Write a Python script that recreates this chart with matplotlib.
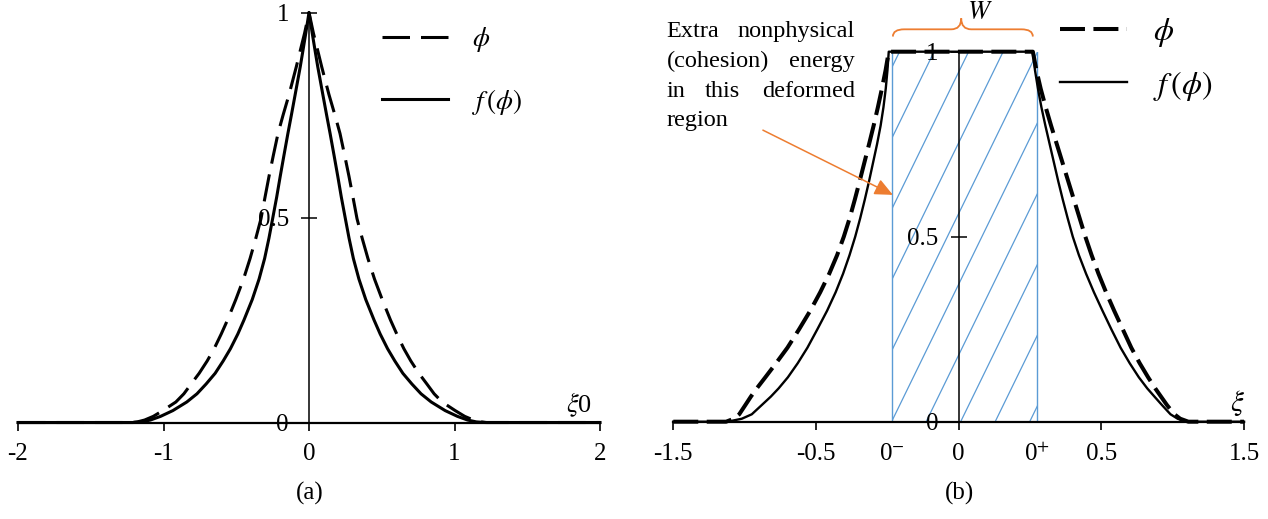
import matplotlib
matplotlib.use("Agg")
import matplotlib.pyplot as plt
from matplotlib.path import Path
from matplotlib.patches import PathPatch, Rectangle

plt.rcParams["font.family"] = ["Liberation Serif", "DejaVu Serif"]
plt.rcParams["mathtext.fontset"] = "stix"
plt.rcParams["axes.unicode_minus"] = False

# --- dados ---

# (a) perfil phi (tracejado) e f(phi) (cheio) em xi_0
YA = [0, 0, 0.0015, 0.006, 0.015, 0.029, 0.05, 0.07, 0.094, 0.12, 0.15, 0.18, 0.216, 0.25,
      0.3, 0.35, 0.4, 0.45, 0.497, 0.55, 0.6, 0.65, 0.705, 0.75, 0.8, 0.868, 0.9, 0.95,
      1.0,
      0.95, 0.9, 0.868, 0.8, 0.75, 0.705, 0.65, 0.6, 0.55, 0.497, 0.45, 0.4, 0.35, 0.3,
      0.25, 0.216, 0.18, 0.15, 0.12, 0.094, 0.07, 0.05, 0.029, 0.015, 0.006, 0.0015, 0, 0]
XA_SOLID = [-2.0, -1.21, -1.15, -1.09, -1.02, -0.936, -0.84, -0.77, -0.707, -0.645, -0.59,
            -0.54, -0.489, -0.447, -0.39, -0.343, -0.305, -0.275, -0.25, -0.222, -0.198,
            -0.173, -0.145, -0.121, -0.095, -0.06, -0.045, -0.022,
            0.0,
            0.022, 0.045, 0.06, 0.095, 0.121, 0.145, 0.173, 0.198, 0.222, 0.25, 0.275, 0.305,
            0.343, 0.39, 0.447, 0.489, 0.54, 0.59, 0.645, 0.707, 0.77, 0.84, 0.936, 1.02,
            1.09, 1.15, 1.21, 2.0]
XA_DASH = [-2.0, -1.22, -1.18, -1.13, -1.07, -1.005, -0.915, -0.86, -0.81, -0.755, -0.70,
           -0.652, -0.603, -0.56, -0.503, -0.45, -0.405, -0.365, -0.33, -0.302, -0.275,
           -0.246, -0.213, -0.178, -0.137, -0.087, -0.065, -0.03,
           0.0,
           0.03, 0.065, 0.087, 0.137, 0.178, 0.213, 0.246, 0.275, 0.302, 0.33, 0.365, 0.405,
           0.45, 0.503, 0.56, 0.603, 0.652, 0.70, 0.755, 0.81, 0.86, 0.915, 1.005, 1.07,
           1.13, 1.18, 1.22, 2.0]

# (b) mesmo perfil com patamar de largura W (eixo esquematico)
YB = [0, 0, 0.008, 0.02, 0.045, 0.068, 0.09, 0.12, 0.158, 0.2, 0.25, 0.3, 0.35, 0.4, 0.45,
      0.5, 0.55, 0.6, 0.65, 0.7, 0.75, 0.8, 0.85, 0.9, 0.95, 1.0,
      1.0, 0.95, 0.9, 0.85, 0.8, 0.75, 0.7, 0.65, 0.6, 0.55, 0.5, 0.45, 0.4, 0.35, 0.3,
      0.25, 0.2, 0.158, 0.12, 0.09, 0.068, 0.045, 0.02, 0.008, 0, 0]
XB_SOLID = [-2.0, -1.62, -1.52, -1.45, -1.38, -1.316, -1.262, -1.197, -1.128, -1.06, -0.99,
            -0.922, -0.862, -0.81, -0.765, -0.725, -0.69, -0.658, -0.628, -0.60, -0.572,
            -0.547, -0.527, -0.511, -0.499, -0.49,
            0.52, 0.535, 0.556, 0.58, 0.608, 0.638, 0.668, 0.698, 0.73, 0.764, 0.80, 0.843,
            0.893, 0.948, 1.008, 1.07, 1.135, 1.199, 1.263, 1.322, 1.372, 1.425, 1.485,
            1.535, 1.60, 2.0]
XB_DASH = [-2.0, -1.63, -1.575, -1.538, -1.495, -1.456, -1.415, -1.355, -1.28, -1.20, -1.118,
           -1.04, -0.97, -0.907, -0.852, -0.805, -0.764, -0.728, -0.694, -0.661, -0.628,
           -0.596, -0.566, -0.538, -0.512, -0.49,
           0.52, 0.545, 0.575, 0.61, 0.648, 0.688, 0.728, 0.768, 0.808, 0.848, 0.888,
           0.932, 0.98, 1.033, 1.09, 1.15, 1.21, 1.269, 1.328, 1.378, 1.418, 1.46, 1.512,
           1.553, 1.61, 2.0]

XTICKS_A = [-2, -1, 0, 1, 2]
XLABELS_A = ["-2", "-1", "0", "1", "2"]
XTICKS_B = [-2, -1, 0, 1, 2]
XLABELS_B = ["-1.5", "-0.5", "0", "0.5", "1.5"]
YTICKS = [0, 0.5, 1]
YLABELS = ["0", "0.5", "1"]

# limites da regiao deformada (0- e 0+)
U_LEFT, U_RIGHT = -0.47, 0.55

W_PX, H_PX = 1268, 519
ORANGE = "#ED7D31"
BLUE = "#5B9BD5"
FS = 18


def fx(px):
    return px / W_PX


def fy(py):
    return 1 - py / H_PX


def style_axes(ax, xticks, xlabels):
    ax.set_xlim(-2, 2)
    ax.set_ylim(0, 1)
    ax.patch.set_visible(False)
    for s in ["top", "right"]:
        ax.spines[s].set_visible(False)
    ax.spines["left"].set_position(("data", 0))
    ax.spines["left"].set_linewidth(1.1)
    ax.spines["bottom"].set_linewidth(1.6)
    ax.set_xticks(xticks)
    ax.set_xticklabels(xlabels)
    ax.set_yticks(YTICKS)
    ax.set_yticklabels(YLABELS)
    ax.tick_params(axis="x", direction="out", length=6, width=1.2, pad=9, labelsize=FS)
    ax.tick_params(axis="y", direction="inout", length=11, width=1.1, pad=9, labelsize=FS)


fig = plt.figure(figsize=(W_PX / 100, H_PX / 100), dpi=100)

# --- (a) ---
ax_a = fig.add_axes([fx(18), fy(422.5), (600 - 18) / W_PX, 410 / H_PX])
style_axes(ax_a, XTICKS_A, XLABELS_A)
ax_a.plot(XA_DASH, YA, color="black", lw=2.2, ls=(0, (9, 3.6)), clip_on=False,
          label=r"$\phi$")
ax_a.plot(XA_SOLID, YA, color="black", lw=2.2, clip_on=False,
          label=r"$f\,(\phi)$")
ax_a.legend(loc="center left", bbox_to_anchor=(fx(381.7), fy(71)),
            bbox_transform=fig.transFigure, frameon=False, fontsize=19.5,
            borderpad=0, borderaxespad=0, handlelength=2.45, handletextpad=0.9,
            labelspacing=1.2)

# --- (b) ---
ax_b = fig.add_axes([fx(673.3), fy(421.7), (1244 - 673.3) / W_PX, 370 / H_PX])
style_axes(ax_b, XTICKS_B, XLABELS_B)
ax_b.set_xticks([U_LEFT, U_RIGHT], minor=True)
ax_b.set_xticklabels(["0$^{-}$", "0$^{+}$"], minor=True)
ax_b.tick_params(axis="x", which="minor", length=0, pad=9 + 6, labelsize=FS)

# regiao hachurada
rect = Rectangle((U_LEFT, 0), U_RIGHT - U_LEFT, 1, transform=ax_b.transData)
slope, step = 0.79, 0.242
for k in range(-6, 6):
    u0 = U_LEFT + k * step
    ln, = ax_b.plot([u0, u0 + 1.0 / slope], [0, 1.0], color=BLUE, lw=0.9, zorder=1)
    ln.set_clip_path(rect)
ax_b.plot([U_LEFT, U_LEFT], [0, 1], color=BLUE, lw=1.0, zorder=1)
ax_b.plot([U_RIGHT, U_RIGHT], [0, 1], color=BLUE, lw=1.0, zorder=1)

ax_b.plot(XB_DASH, YB, color="black", lw=2.9, ls=(0, (6.2, 2.1)), clip_on=False,
          label=r"$\phi$", zorder=3)
ax_b.plot(XB_SOLID, YB, color="black", lw=1.7, clip_on=False,
          label=r"$f\,(\phi)$", zorder=3)
ax_b.legend(loc="center left", bbox_to_anchor=(fx(1060), fy(59.5)),
            bbox_transform=fig.transFigure, frameon=False, fontsize=23,
            borderpad=0, borderaxespad=0, handlelength=2.1, handletextpad=0.8,
            labelspacing=0.6)

# chave W
uL, uR, um = -0.461, 0.52, 0.018
y_end, y_bar, y_cusp = 1.041, 1.0605, 1.09
r, c = 0.08, 0.07
verts = [(uL, y_end), (uL, y_bar), (uL + r, y_bar), (um - c, y_bar),
         (um, y_bar), (um, y_cusp), (um, y_bar), (um + c, y_bar),
         (uR - r, y_bar), (uR, y_bar), (uR, y_end)]
codes = [Path.MOVETO, Path.CURVE3, Path.CURVE3, Path.LINETO,
         Path.CURVE3, Path.CURVE3, Path.CURVE3, Path.CURVE3,
         Path.LINETO, Path.CURVE3, Path.CURVE3]
ax_b.add_patch(PathPatch(Path(verts, codes), fill=False, edgecolor=ORANGE, lw=1.3,
                         clip_on=False))
fig.text(fx(980), fy(13), r"$W$", fontsize=19, ha="center", va="center")

# seta e texto justificado
ax_b.annotate("", xy=(-0.461, 0.613), xytext=(-1.372, 0.788),
              arrowprops=dict(arrowstyle="-|>,head_length=0.55,head_width=0.25",
                              color=ORANGE, lw=1.1, mutation_scale=20,
                              shrinkA=0, shrinkB=0))
ann_lines = [(37, ["Extra", "nonphysical"]),
             (67, ["(cohesion)", "energy"]),
             (97, ["in", "this", "deformed"]),
             (126, ["region"])]
for base, words in ann_lines:
    fig.text(fx(666.7), fy(base), words[0], fontsize=17.5, ha="left", va="baseline")
    if len(words) == 3:
        fig.text(fx(722.5), fy(base), words[1], fontsize=17.5, ha="center", va="baseline")
    if len(words) > 1:
        fig.text(fx(855), fy(base), words[-1], fontsize=17.5, ha="right", va="baseline")

# rotulos dos eixos e legendas das figuras
fig.text(fx(579), fy(405), r"$\xi$0", fontsize=19, ha="center", va="center")
fig.text(fx(1237), fy(403), r"$\xi$", fontsize=21, ha="center", va="center")
fig.text(fx(310), fy(493), "(a)", fontsize=FS, ha="center", va="center")
fig.text(fx(960), fy(493), "(b)", fontsize=FS, ha="center", va="center")

fig.savefig("out.png", dpi=100)
